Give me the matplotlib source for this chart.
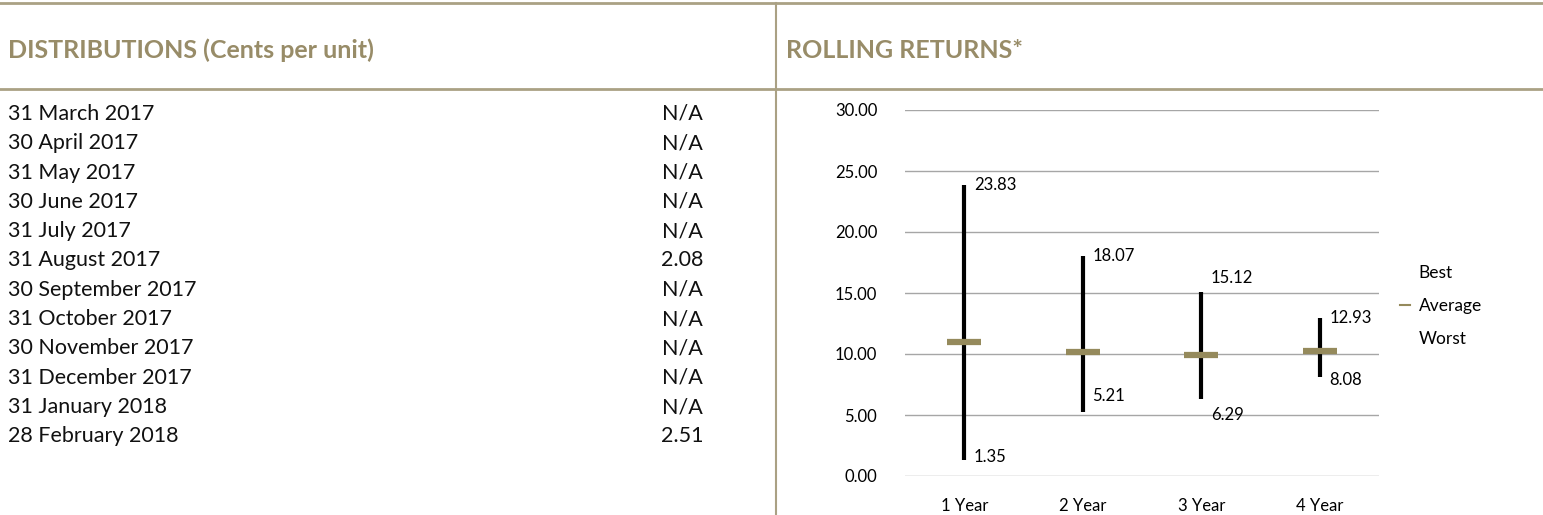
import matplotlib
matplotlib.use('Agg')
import matplotlib.pyplot as plt
from matplotlib.lines import Line2D

plt.rcParams['font.family'] = ['Lato', 'DejaVu Sans']

# distributions table
dist_dates = ['31 March 2017', '30 April 2017', '31 May 2017', '30 June 2017',
              '31 July 2017', '31 August 2017', '30 September 2017', '31 October 2017',
              '30 November 2017', '31 December 2017', '31 January 2018', '28 February 2018']
dist_values = ['N/A', 'N/A', 'N/A', 'N/A', 'N/A', '2.08', 'N/A', 'N/A',
               'N/A', 'N/A', 'N/A', '2.51']

# rolling returns
periods = ['1 Year', '2 Year', '3 Year', '4 Year']
best = [23.83, 18.07, 15.12, 12.93]
average = [11.0, 10.2, 9.9, 10.25]
worst = [1.35, 5.21, 6.29, 8.08]

TAN = '#988c68'
LINE = '#aaa184'

fig = plt.figure(figsize=(15.43, 5.15), dpi=100)

# frame lines
fig.add_artist(Line2D([0, 1], [1 - 3 / 515, 1 - 3 / 515], color=LINE, lw=2))
fig.add_artist(Line2D([0, 1], [1 - 89 / 515, 1 - 89 / 515], color=LINE, lw=2))
fig.add_artist(Line2D([776 / 1543, 776 / 1543], [0, 1 - 3 / 515], color=LINE, lw=1.5))

fig.text(8 / 1543, 1 - 50 / 515, 'DISTRIBUTIONS (Cents per unit)', color=TAN,
         fontsize=18, fontweight='bold', va='center', ha='left')
fig.text(786 / 1543, 1 - 50 / 515, 'ROLLING RETURNS*', color=TAN,
         fontsize=18, fontweight='bold', va='center', ha='left')

for i, (d, v) in enumerate(zip(dist_dates, dist_values)):
    y = 1 - (114 + i * 29.3) / 515
    fig.text(8 / 1543, y, d, fontsize=15.5, va='center', ha='left', color='#111111')
    fig.text(703 / 1543, y, v, fontsize=15.5, va='center', ha='right', color='#111111')

ax = fig.add_axes([905 / 1543, 39 / 515, 474 / 1543, 366 / 515])
x = list(range(len(periods)))
ax.vlines(x, worst, best, color='black', lw=3, zorder=3)
ax.scatter(x, average, marker='_', s=24 ** 2, linewidths=4.5, color='#958a5c', zorder=4)

# label offsets in points (best, worst)
best_off = [0, 0, 10, 0]
worst_off = [2, 12, -11, -2]
for xi, b, w, bo, wo in zip(x, best, worst, best_off, worst_off):
    ax.annotate(f'{b:.2f}', (xi, b), xytext=(7, bo), textcoords='offset points',
                va='center', ha='left', fontsize=12)
    ax.annotate(f'{w:.2f}', (xi, w), xytext=(7, wo), textcoords='offset points',
                va='center', ha='left', fontsize=12)

ax.set_xlim(-0.5, 3.5)
ax.set_ylim(0, 30)
ax.set_yticks(range(0, 31, 5))
ax.set_yticklabels([f'{t:.2f}' for t in range(0, 31, 5)])
ax.set_xticks(x)
ax.set_xticklabels(periods)
ax.grid(axis='y', color='#a6a6a6', lw=1)
ax.set_axisbelow(True)
for s in ax.spines.values():
    s.set_visible(False)
ax.tick_params(length=0, labelsize=12)
ax.tick_params(axis='x', pad=16)
ax.tick_params(axis='y', pad=20)

handles = [Line2D([], [], color='none'),
           Line2D([], [], color='#958a5c', lw=1.5),
           Line2D([], [], color='none')]
fig.legend(handles, ['Best', 'Average', 'Worst'], loc='center left',
           bbox_to_anchor=(1384 / 1543, 1 - 306 / 515), frameon=False,
           fontsize=12.5, handlelength=0.6, handletextpad=0.5, labelspacing=1.0)

fig.savefig('out.png', dpi=100)
